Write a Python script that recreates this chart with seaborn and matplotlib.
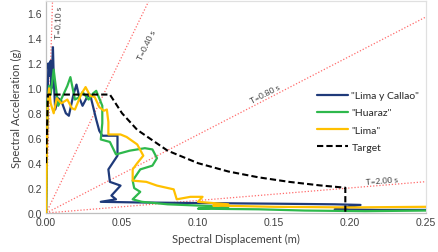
import matplotlib
matplotlib.use("Agg")
import matplotlib.pyplot as plt
from matplotlib.lines import Line2D
import numpy as np
import pandas as pd
import seaborn as sns

# spectra in ADRS format: spectral displacement (m) vs spectral acceleration (g)
callao_sd = [0, 0.0005, 0.001, 0.0015, 0.0025, 0.003, 0.0035, 0.0045, 0.005, 0.0055, 0.006,
             0.008, 0.010, 0.013, 0.015, 0.018, 0.020, 0.022, 0.024, 0.027, 0.029, 0.031,
             0.033, 0.035, 0.037, 0.047, 0.047, 0.041, 0.042, 0.049, 0.043, 0.046, 0.036,
             0.06, 0.10, 0.15, 0.19, 0.207, 0.19, 0.22, 0.25]
callao_sa = [0, 0.5, 0.9, 1.2, 1.1, 1.22, 1.0, 1.33, 1.1, 0.95, 0.83,
             0.92, 0.90, 0.80, 0.78, 0.95, 1.03, 0.92, 0.86, 0.93, 0.95, 0.85,
             0.75, 0.66, 0.62, 0.62, 0.46, 0.35, 0.25, 0.22, 0.14, 0.11, 0.09,
             0.085, 0.08, 0.075, 0.07, 0.065, 0.03, 0.025, 0.025]

huaraz_sd = [0, 0.0005, 0.001, 0.002, 0.003, 0.005, 0.006, 0.008, 0.011, 0.014, 0.016,
             0.019, 0.022, 0.024, 0.028, 0.031, 0.033, 0.037, 0.037, 0.036, 0.042, 0.046,
             0.055, 0.065, 0.070, 0.073, 0.070, 0.062, 0.057, 0.058, 0.062, 0.057, 0.063,
             0.08, 0.10, 0.12, 0.10, 0.14, 0.17, 0.21, 0.25]
huaraz_sa = [0, 0.6, 0.9, 1.02, 0.95, 1.15, 1.05, 0.86, 0.94, 1.02, 1.09,
             0.91, 0.93, 0.97, 0.91, 0.96, 0.98, 0.86, 0.72, 0.59, 0.57, 0.47,
             0.50, 0.52, 0.51, 0.44, 0.38, 0.35, 0.26, 0.20, 0.17, 0.11, 0.09,
             0.07, 0.06, 0.05, 0.035, 0.03, 0.02, 0.015, 0.02]

lima_sd = [0, 0.0005, 0.001, 0.002, 0.003, 0.005, 0.007, 0.010, 0.014, 0.017, 0.019,
           0.023, 0.026, 0.029, 0.032, 0.035, 0.038, 0.040, 0.041, 0.041, 0.049, 0.053,
           0.060, 0.064, 0.060, 0.057, 0.057, 0.066, 0.073, 0.084, 0.086, 0.095, 0.103,
           0.10, 0.12, 0.11, 0.15, 0.20, 0.25]
lima_sa = [0, 0.5, 0.85, 1.0, 0.88, 0.80, 0.92, 0.88, 0.91, 0.84, 0.83,
           0.95, 1.01, 0.94, 0.93, 0.85, 0.82, 0.83, 0.73, 0.63, 0.63, 0.61,
           0.55, 0.46, 0.40, 0.35, 0.26, 0.25, 0.22, 0.19, 0.11, 0.13, 0.13,
           0.09, 0.07, 0.06, 0.05, 0.045, 0.05]

target_sd = [0, 0.0012, 0.042, 0.05, 0.06, 0.08, 0.10, 0.12, 0.14, 0.16, 0.18, 0.197, 0.197]
target_sa = [0.40, 0.95, 0.95, 0.80, 0.667, 0.50, 0.40, 0.333, 0.286, 0.25, 0.222, 0.203, 0.0]

periods = [0.10, 0.40, 0.80, 2.00]
period_labels = ["T=0.10 s", "T=0.40 s", "T=0.80 s", "T=2.00 s"]
# label anchor positions (Sd, Sa)
label_pos = [(0.0088, 1.53), (0.0665, 1.35), (0.144, 0.96), (0.221, 0.265)]

series_names = ['"Lima y Callao"', '"Huaraz"', '"Lima"']
colors = ["#1f3a7a", "#2eb84c", "#ffc000"]

df = pd.concat([
    pd.DataFrame({"sd": callao_sd, "sa": callao_sa, "name": series_names[0]}),
    pd.DataFrame({"sd": huaraz_sd, "sa": huaraz_sa, "name": series_names[1]}),
    pd.DataFrame({"sd": lima_sd, "sa": lima_sa, "name": series_names[2]}),
])
target = pd.DataFrame({"sd": target_sd, "sa": target_sa})

sns.set_style("white")
plt.rcParams["font.family"] = ["Liberation Sans", "DejaVu Sans"]

fig = plt.figure(figsize=(4.39, 2.53), dpi=100)
ax = fig.add_axes([0.105, 0.154, 0.865, 0.838])

# constant period lines: Sa = (2 pi / T)^2 Sd / g
sd_line = np.array([0.0, 0.25])
for T in periods:
    slope = (2 * np.pi / T) ** 2 / 9.81
    ax.plot(sd_line, slope * sd_line, color="#ff6b6b", linestyle=(0, (1, 1.5)), linewidth=0.9, zorder=1)

sns.lineplot(data=df, x="sd", y="sa", hue="name", palette=colors, sort=False,
             estimator=None, units="name", linewidth=1.6, ax=ax, legend=False, zorder=3)
sns.lineplot(data=target, x="sd", y="sa", sort=False, estimator=None, color="black",
             linestyle=(0, (3, 1.5)), linewidth=1.5, ax=ax, zorder=4)

ax.set_xlim(0, 0.25)
ax.set_ylim(0, 1.7)
ax.set_xticks([0, 0.05, 0.10, 0.15, 0.20, 0.25])
ax.set_xticklabels(["0.00", "0.05", "0.10", "0.15", "0.20", "0.25"])
ax.set_yticks([0, 0.2, 0.4, 0.6, 0.8, 1.0, 1.2, 1.4, 1.6])
ax.set_yticklabels(["0.0", "0.2", "0.4", "0.6", "0.8", "1.0", "1.2", "1.4", "1.6"])
ax.tick_params(labelsize=7.5, colors="#404040", length=0, pad=3)

ax.set_xlabel("Spectral Displacement (m)", fontsize=8, family=["Lato", "DejaVu Sans"], color="#404040", labelpad=4)
ax.set_ylabel("Spectral Acceleration (g)", fontsize=8, family=["Lato", "DejaVu Sans"], color="#404040", labelpad=4)

for side in ["left", "bottom"]:
    ax.spines[side].set_color("#bfbfbf")
for side in ["top", "right"]:
    ax.spines[side].set_color("#e0e0e0")
for s in ax.spines.values():
    s.set_linewidth(0.9)

# period labels rotated along each line (pixel slope)
for T, lab, (x, y) in zip(periods, period_labels, label_pos):
    slope = (2 * np.pi / T) ** 2 / 9.81
    p0 = ax.transData.transform((0, 0))
    p1 = ax.transData.transform((0.01, 0.01 * slope))
    ang = np.degrees(np.arctan2(p1[1] - p0[1], p1[0] - p0[0]))
    ax.text(x, y, lab, rotation=ang, rotation_mode="anchor", fontsize=6,
            family=["Lato", "DejaVu Sans"], color="#404040", ha="center", va="center", zorder=5)

handles = [Line2D([0], [0], color=c, linewidth=1.6) for c in colors]
handles.append(Line2D([0], [0], color="black", linestyle=(0, (3, 1.5)), linewidth=1.5))
leg = ax.legend(handles, series_names + ["Target"], loc="upper left", bbox_to_anchor=(0.70, 0.60),
                frameon=False, borderpad=0, handlelength=3.0, handletextpad=0.3, labelspacing=0.75,
                prop={"family": ["Lato", "DejaVu Sans"], "size": 7.5})

fig.savefig("out.png", dpi=100)
